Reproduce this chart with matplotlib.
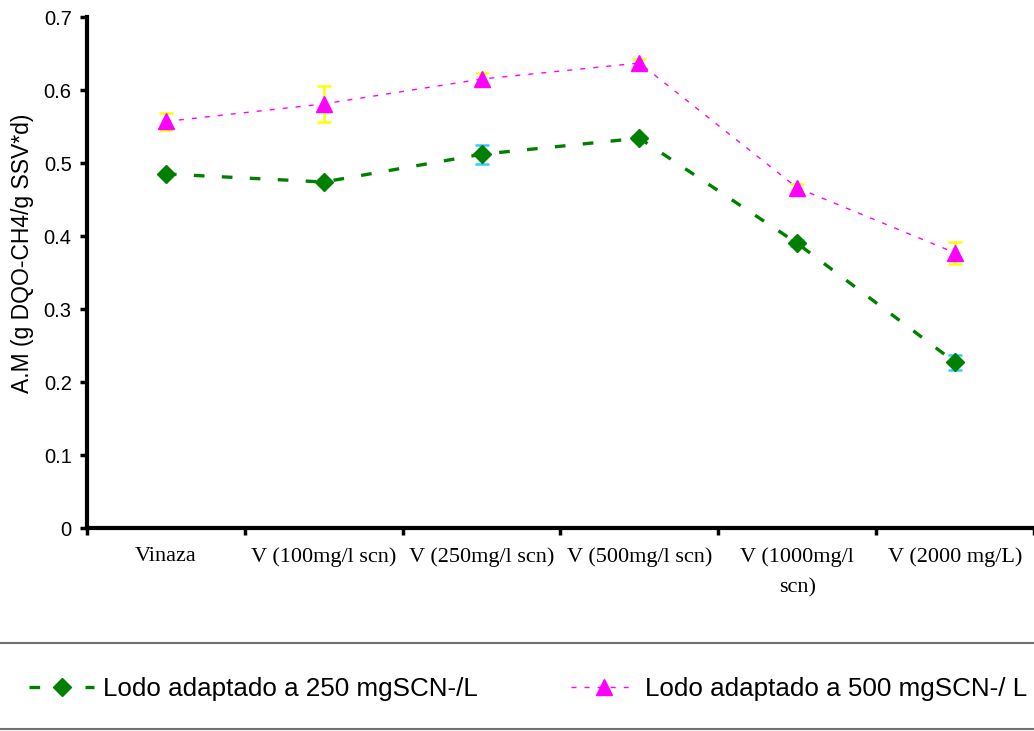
import matplotlib
matplotlib.use("Agg")
import matplotlib.pyplot as plt
from matplotlib.lines import Line2D
import numpy as np

# Activity values per substrate condition
categorias = ["Vinaza", "V (100mg/l scn)", "V (250mg/l scn)", "V (500mg/l scn)",
              "V (1000mg/l\nscn)", "V (2000 mg/L)"]
am_250 = [0.485, 0.474, 0.512, 0.534, 0.390, 0.227]
err_250 = [0.0, 0.0, 0.013, 0.003, 0.004, 0.010]
am_500 = [0.557, 0.581, 0.615, 0.637, 0.466, 0.377]
err_500 = [0.012, 0.025, 0.008, 0.006, 0.005, 0.015]

plt.rcParams["font.family"] = ["Liberation Sans", "DejaVu Sans"]

fig = plt.figure(figsize=(10.34, 7.31), dpi=100)
ax = fig.add_axes([0.0841, 0.2777, 0.9159, 0.699])

x = np.arange(len(categorias)) + 0.5

# error bars first so the markers sit on top
ax.errorbar(x, am_250, yerr=err_250, fmt="none", ecolor="#33CCFF",
            elinewidth=1.8, capsize=5, capthick=1.8, zorder=2)
ax.errorbar(x, am_500, yerr=err_500, fmt="none", ecolor="#FFFF00",
            elinewidth=1.8, capsize=5, capthick=1.8, zorder=2)

l1, = ax.plot(x, am_250, color="#008000", lw=2.4, linestyle=(0, (3.2, 5.2)),
              marker="D", markersize=9.5, markeredgecolor="#008000",
              label="Lodo adaptado a 250 mgSCN-/L", zorder=3)
l2, = ax.plot(x, am_500, color="#FF00FF", lw=1.0, linestyle=(0, (3.6, 5.8)),
              marker="^", markersize=12, markeredgecolor="#FF00FF",
              label="Lodo adaptado a 500 mgSCN-/ L", zorder=3)

ax.set_xlim(0, len(categorias))
ax.set_ylim(0, 0.7)
ax.set_yticks(np.arange(0, 0.71, 0.1))
ax.set_yticklabels(["0", "0.1", "0.2", "0.3", "0.4", "0.5", "0.6", "0.7"], fontsize=14.5)
ax.set_xticks(np.arange(0, len(categorias) + 1))
ax.set_xticklabels([])
ax.set_xticks(x, minor=True)
ax.set_xticklabels(categorias, minor=True, fontsize=16, linespacing=1.8,
                   family=["Liberation Serif", "DejaVu Serif"])
ax.tick_params(axis="x", which="minor", length=0, pad=14)
ax.tick_params(axis="both", which="major", direction="out", length=5, width=2.5)
ax.tick_params(axis="y", pad=6)

for s in ["top", "right"]:
    ax.spines[s].set_visible(False)
for s in ["left", "bottom"]:
    ax.spines[s].set_linewidth(3)

ax.set_ylabel("A.M (g DQO-CH4/g SSV*d)", fontsize=16.5)
ax.yaxis.set_label_coords(-0.056, 0.537)

# legend band with gray rules above and below
fig.add_artist(Line2D([0, 1], [1 - 643 / 731, 1 - 643 / 731], color="#707070", lw=1.5))
fig.add_artist(Line2D([0, 1], [1 - 729 / 731, 1 - 729 / 731], color="#707070", lw=1.5))
fig.legend(handles=[l1, l2], loc="center", bbox_to_anchor=(0.511, 1 - 689 / 731),
           ncol=2, frameon=False, fontsize=18.7, handlelength=2.5, handletextpad=0.35,
           columnspacing=3.6)

fig.savefig("out.png", dpi=100)
